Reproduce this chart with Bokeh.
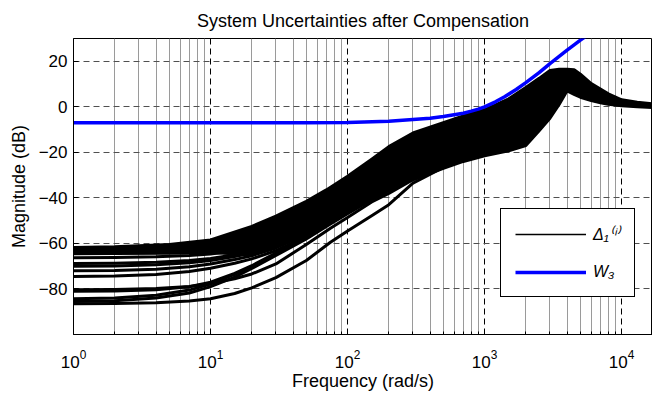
from bokeh.plotting import figure
from bokeh.models import Range1d, FixedTicker, Legend, LegendItem
from bokeh.embed import file_html
from bokeh.resources import INLINE

# ---- data -------------------------------------------------------------------
# envelope of the dense family of Delta_1^(i) curves
freq_band = [1, 2, 5, 10, 20, 30, 50, 70, 100, 150, 200, 300, 500, 700, 1000,
             1500, 2000, 2500, 3000, 3500, 4000, 4500, 5000, 6000, 7000, 8000,
             10000, 13000, 17000]
band_upper = [-61.8, -61.5, -60.5, -58.5, -52.5, -48.0, -41.5, -36.5, -30.5, -23.0,
              -17.5, -11.5, -7.0, -4.0, -1.3, 3.5, 8.5, 12.5, 16.0, 16.5, 16.5,
              16.3, 14.3, 10.2, 7.8, 5.7, 3.1, 2.0, 1.3]
band_lower = [-64.5, -64.4, -64.3, -64.0, -65.0, -61.5, -55.0, -49.5, -44.0, -38.5,
              -35.0, -32.0, -27.0, -24.0, -21.5, -19.3, -17.0, -10.5, -5.0, 1.0,
              7.0, 5.5, 4.2, 2.7, 1.8, 1.1, 0.5, 0.0, -0.3]

# individual Delta_1^(i) curves that separate from the family at low frequency
freq_curves = [1, 2, 4, 7, 10, 15, 20, 30, 50, 75, 100, 150, 200, 300, 500]
delta_a = [-66.3, -66.2, -65.9, -65.3, -64.6, -63.3, -62.0, -59.0, -53.5, -48.0, -43.5, -38.0, -34.5, -30.0, -25.0]
delta_b = [-68.8, -68.7, -68.3, -67.5, -66.6, -65.0, -63.5, -60.3, -54.5, -48.8, -44.2, -38.5, -35.0, -30.3, -25.3]
delta_c = [-70.0, -69.9, -69.4, -68.5, -67.5, -65.8, -64.2, -61.0, -55.2, -49.3, -44.6, -39.0, -35.3, -30.6, -25.6]
delta_d = [-72.0, -71.9, -71.3, -70.2, -69.0, -67.1, -65.4, -62.0, -56.0, -50.0, -45.2, -39.5, -35.6, -30.8, -25.8]
delta_e = [-74.5, -74.3, -73.6, -72.3, -70.9, -68.7, -66.8, -63.2, -57.0, -50.8, -45.8, -40.0, -36.0, -31.0, -26.0]
delta_f = [-80.3, -80.2, -79.8, -78.9, -77.6, -75.5, -73.4, -69.0, -60.5, -53.3, -48.6, -41.8, -38.0, -32.0, -26.6]
delta_g = [-81.0, -80.9, -80.3, -79.0, -77.0, -73.2, -69.8, -64.2, -57.0, -50.5, -46.0, -40.0, -36.0, -31.5, -26.3]
delta_h = [-84.3, -84.0, -82.8, -80.5, -77.8, -73.6, -70.2, -64.6, -57.5, -51.0, -46.5, -40.3, -36.3, -31.4, -26.3]
delta_i = [-85.5, -85.2, -84.0, -81.8, -79.0, -74.8, -71.0, -65.3, -58.0, -51.5, -47.0, -40.8, -36.8, -31.8, -26.6]
delta_j = [-86.5, -86.4, -86.1, -85.3, -84.3, -82.0, -79.5, -75.0, -67.5, -59.5, -54.5, -47.8, -43.0, -33.5, -26.6]
delta_curves = [delta_a, delta_b, delta_c, delta_d, delta_e,
                delta_f, delta_g, delta_h, delta_i, delta_j]

# weighting function W3
freq_w3 = [1, 10, 50, 100, 200, 300, 400, 500, 700, 800, 900, 1000, 1200, 1400,
           1700, 2000, 2500, 3000, 3500, 4000, 4500, 5000, 6000]
w3_db = [-7.0, -7.0, -7.0, -6.9, -6.3, -5.6, -5.0, -4.3, -2.8, -1.9, -1.0, 0.0,
         2.2, 4.4, 7.6, 10.6, 15.0, 19.0, 22.1, 24.9, 27.2, 29.3, 32.6]

legend_labels = ["Δ₁⁽ⁱ⁾", "W₃"]

x_ticks = [1, 10, 100, 1000, 10000]
x_minor_ticks = [m * d for d in [1, 10, 100, 1000, 10000] for m in range(2, 10)]
y_ticks = [-80, -60, -40, -20, 0, 20]

FONT = "Liberation Sans"

p = figure(width=652, height=395, x_axis_type="log",
           x_range=Range1d(1, 16800), y_range=Range1d(-100, 30),
           output_backend="svg", toolbar_location=None,
           min_border_left=73, min_border_right=0,
           min_border_top=38, min_border_bottom=61,
           title="System Uncertainties after Compensation")
p.background_fill_color = "white"
p.border_fill_color = "white"
p.outline_line_color = "black"
p.outline_line_width = 1

p.title.text_font = FONT
p.title.text_font_size = "18px"
p.title.text_font_style = "normal"
p.title.text_color = "black"
p.title.align = "center"
p.title.offset = 4
p.title.standoff = 16

# axes
p.xaxis.ticker = FixedTicker(ticks=x_ticks, minor_ticks=x_minor_ticks)
p.yaxis.ticker = FixedTicker(ticks=y_ticks)
for ax in (p.xaxis[0], p.yaxis[0]):
    ax.axis_line_color = "black"
    ax.major_tick_line_color = "black"
    ax.minor_tick_line_color = "black"
    ax.major_tick_in = 5
    ax.major_tick_out = 0
    ax.minor_tick_in = 3
    ax.minor_tick_out = 0
    ax.major_label_text_font = FONT
    ax.major_label_text_font_size = "17px"
    ax.major_label_text_color = "black"
    ax.axis_label_text_font = FONT
    ax.axis_label_text_font_size = "18px"
    ax.axis_label_text_font_style = "normal"
    ax.axis_label_text_color = "black"
p.xaxis.axis_label = "Frequency (rad/s)"
p.yaxis.axis_label = "Magnitude (dB)"
p.xaxis.major_label_standoff = 15
p.xaxis.axis_label_standoff = 0
p.yaxis.major_label_standoff = 6
p.yaxis.axis_label_standoff = 7

# grid
p.xgrid.grid_line_color = "black"
p.xgrid.grid_line_dash = "6 4"
p.xgrid.grid_line_width = 1
p.xgrid.minor_grid_line_color = "#9a9a9a"
p.xgrid.minor_grid_line_width = 1
p.ygrid.grid_line_color = "#505050"
p.ygrid.grid_line_dash = "6 4"
p.ygrid.grid_line_width = 1

# dense family of curves
band_x = freq_band + freq_band[::-1]
band_y = band_upper + band_lower[::-1]
p.patch(band_x, band_y, fill_color="black", line_color="black",
        line_width=3, line_join="round")
for c in delta_curves:
    p.line(freq_curves, c, line_color="black", line_width=3, line_join="round")

w3_r = p.line(freq_w3, w3_db, line_color="#0000ff", line_width=3.5, line_join="round")

# legend (sample renderer for the thin black legend line)
leg_black = p.line(freq_curves, delta_a, line_color="black", line_width=1.5, visible=False)
legend = Legend(items=[LegendItem(label=legend_labels[0], renderers=[leg_black]),
                       LegendItem(label=legend_labels[1], renderers=[w3_r])],
                location=(427, 36.6), orientation="vertical",
                padding=14, spacing=17, margin=0,
                glyph_width=71, glyph_height=20,
                label_width=23, label_height=20, label_standoff=7,
                border_line_color="black", border_line_width=1, border_line_alpha=1,
                background_fill_color="white", background_fill_alpha=1,
                label_text_font=FONT, label_text_font_size="16px",
                label_text_font_style="italic", label_text_color="black")
p.add_layout(legend)

open("out.html", "w").write(file_html(p, INLINE))
